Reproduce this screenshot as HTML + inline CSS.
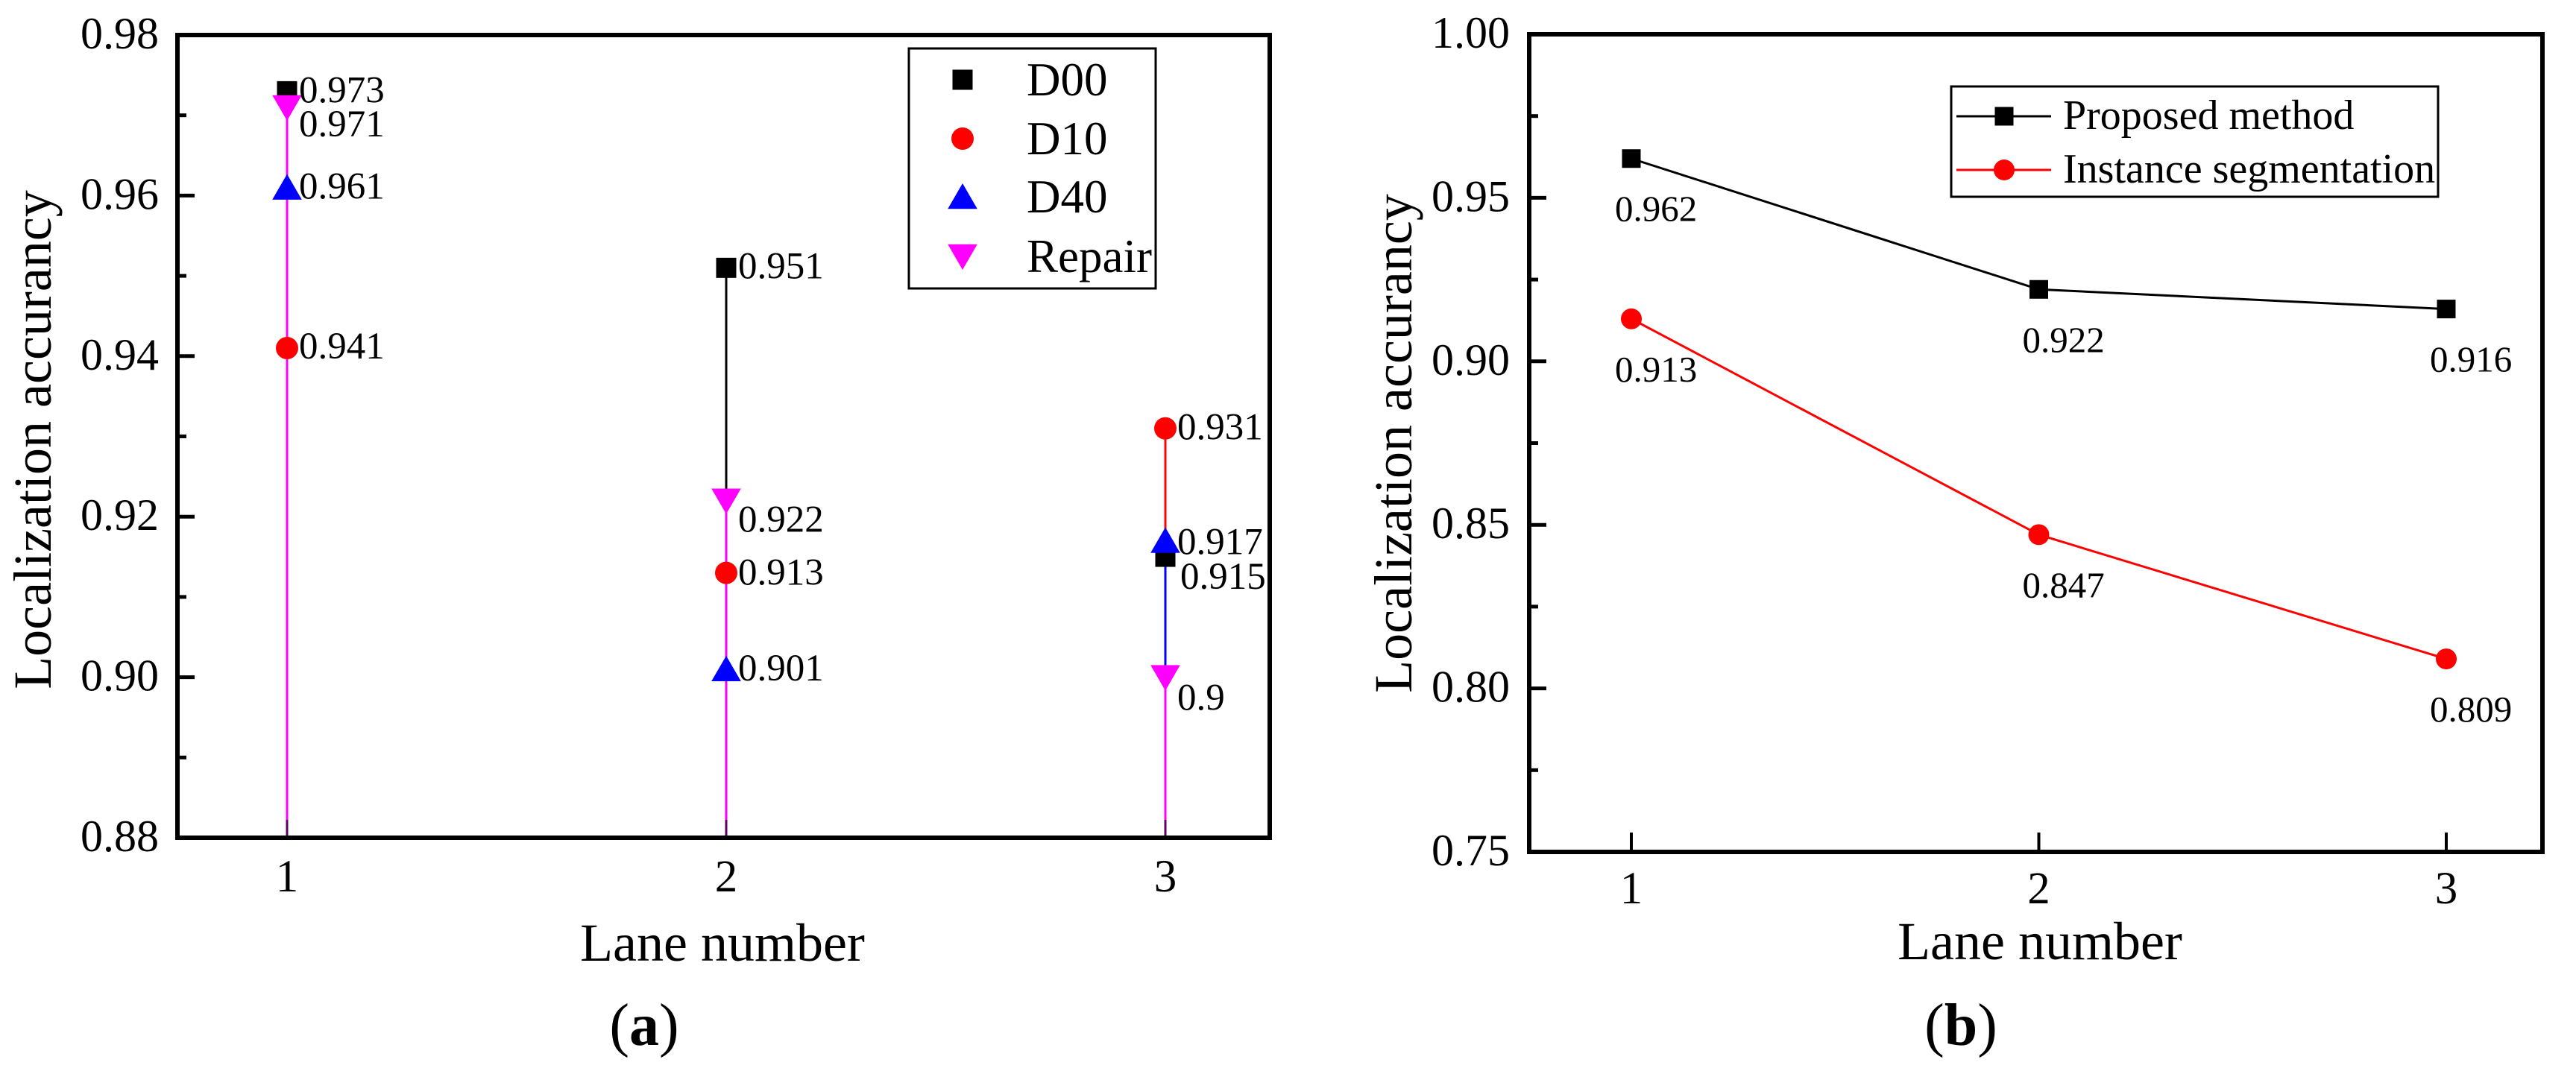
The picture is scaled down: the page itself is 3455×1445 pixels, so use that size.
<!DOCTYPE html>
<html><head><meta charset="utf-8"><style>
html,body{margin:0;padding:0;background:#fff;}
svg, svg text{font-family:"Liberation Serif","Times New Roman",serif;}
</style></head><body>
<svg id="fig" width="3455" height="1440" viewBox="0 0 3455 1440" xmlns="http://www.w3.org/2000/svg" font-family="Liberation Serif, serif">
<rect width="3455" height="1440" fill="#fff"/>
<g id="chartA"></g>
<g id="chartB"></g>
</svg>
<script>
// ---- Chart (a) data ----
const lanesA = [1, 2, 3];
const seriesNamesA = ["D00", "D10", "D40", "Repair"];
const d00 = [0.973, 0.951, 0.915];
const d10 = [0.941, 0.913, 0.931];
const d40 = [0.961, 0.901, 0.917];
const repair = [0.971, 0.922, 0.9];
const yTicksA = ["0.88", "0.90", "0.92", "0.94", "0.96", "0.98"];
// ---- Chart (b) data ----
const lanesB = [1, 2, 3];
const seriesNamesB = ["Proposed method", "Instance segmentation"];
const proposed = [0.962, 0.922, 0.916];
const instance = [0.913, 0.847, 0.809];
const yTicksB = ["0.75", "0.80", "0.85", "0.90", "0.95", "1.00"];

const NS = "http://www.w3.org/2000/svg";
function mk(parent, tag, attrs, text) {
  const e = document.createElementNS(NS, tag);
  for (const k in attrs) e.setAttribute(k, attrs[k]);
  if (tag === "text") e.setAttribute("font-family", "Liberation Serif, Times New Roman, serif");
  if (text !== undefined) e.textContent = text;
  parent.appendChild(e);
  return e;
}
function marker(g, shape, cx, cy, s, color) {
  let e;
  if (shape === "square") e = mk(g, "rect", {x: cx - s/2, y: cy - s/2, width: s, height: s, fill: color});
  else if (shape === "circle") e = mk(g, "circle", {cx: cx, cy: cy, r: s/2, fill: color});
  else if (shape === "up") e = mk(g, "polygon", {points: `${cx},${cy - s*0.5} ${cx - s*0.55},${cy + s*0.45} ${cx + s*0.55},${cy + s*0.45}`, fill: color});
  else e = mk(g, "polygon", {points: `${cx},${cy + s*0.5} ${cx - s*0.55},${cy - s*0.45} ${cx + s*0.55},${cy - s*0.45}`, fill: color});
  return e;
}

// ================= Chart A =================
(function(){
  const g = document.getElementById("chartA");
  const L = 238, R = 1703, T = 47, B = 1124;
  const yMin = 0.88, yMax = 0.98;
  const x1 = 385, x3 = 1563;
  const X = v => x1 + (v - 1) / 2 * (x3 - x1);
  const Y = v => B - (v - yMin) / (yMax - yMin) * (B - T);
  const all = [d00, d10, d40, repair];
  const colors = ["#000000", "#ff0000", "#0000ff", "#ff00ff"];
  const shapes = ["square", "circle", "up", "down"];
  const sizes = [27, 30, 36, 36];
  all.forEach((ser, si) => {
    ser.forEach((v, i) => {
      const ln = mk(g, "line", {x1: X(lanesA[i]), x2: X(lanesA[i]), y1: Y(v), y2: B, stroke: colors[si], "stroke-width": 3});
      
      
    });
  });
  lanesA.forEach(l => {
    const t = mk(g, "line", {x1: X(l), x2: X(l), y1: B, y2: B - 24, stroke: "#600060", "stroke-width": 3});
    
    
    const tl = mk(g, "text", {x: X(l), y: 1196, "font-size": 61, "text-anchor": "middle"}, String(l));
    
    
  });
  yTicksA.forEach(s => {
    const v = parseFloat(s);
    const t = mk(g, "line", {x1: L, x2: L + 23, y1: Y(v), y2: Y(v), stroke: "#000", "stroke-width": 5});
    
    
    const tl = mk(g, "text", {x: L - 25, y: Y(v) + 18, "font-size": 60, "text-anchor": "end"}, s);
    
    
    if (v < yMax - 0.001) {
      const m = mk(g, "line", {x1: L, x2: L + 12, y1: Y(v + 0.01), y2: Y(v + 0.01), stroke: "#000", "stroke-width": 5});
      
      
    }
  });
  const fr = mk(g, "rect", {x: L, y: T, width: R - L, height: B - T, fill: "none", stroke: "#000", "stroke-width": 6});
  
  
  all.forEach((ser, si) => {
    ser.forEach((v, i) => {
      const m = marker(g, shapes[si], X(lanesA[i]), Y(v), sizes[si], colors[si]);
      
      
    });
  });
  const labDy = [[15, 14, 43], [14, 16, 15], [15, 15, 18], [39, 42, 44]];
  const labDx = [[16, 16, 20], [16, 16, 16], [16, 16, 16], [16, 16, 16]];
  all.forEach((ser, si) => {
    ser.forEach((v, i) => {
      const t = mk(g, "text", {x: X(lanesA[i]) + labDx[si][i], y: Y(v) + labDy[si][i], "font-size": 51}, String(v));
      
      
    });
  });
  const lg = mk(g, "g", {});
  
  
  mk(lg, "rect", {x: 1219, y: 65, width: 331, height: 322, fill: "#fff", stroke: "#000", "stroke-width": 3});
  const lgBase = [128, 207, 285, 365];
  seriesNamesA.forEach((n, si) => {
    const e = mk(lg, "g", {});
    
    
    marker(e, shapes[si], 1291, lgBase[si] - 21, sizes[si], colors[si]);
    mk(e, "text", {x: 1377, y: lgBase[si], "font-size": 63}, n);
  });
  const xt = mk(g, "text", {x: 969, y: 1289, "font-size": 72, "text-anchor": "middle"}, "Lane number");
  
  
  const yt = mk(g, "text", {x: 0, y: 0, "font-size": 72, "text-anchor": "middle", transform: "translate(68,590) rotate(-90)"}, "Localization accurancy");
  
  
  const cap = mk(g, "text", {x: 864, y: 1402, "font-size": 80, "text-anchor": "middle"});
  
  
  cap.innerHTML = '(<tspan font-weight="bold">a</tspan>)';
})();

// ================= Chart B =================
(function(){
  const g = document.getElementById("chartB");
  const L = 2051, R = 3410, T = 46, B = 1143;
  const yMin = 0.75, yMax = 1.0;
  const x1 = 2188, x3 = 3281;
  const X = v => x1 + (v - 1) / 2 * (x3 - x1);
  const Y = v => B - (v - yMin) / (yMax - yMin) * (B - T);
  yTicksB.forEach(s => {
    const v = parseFloat(s);
    const t = mk(g, "line", {x1: L, x2: L + 23, y1: Y(v), y2: Y(v), stroke: "#000", "stroke-width": 5});
    
    
    const tl = mk(g, "text", {x: L - 26, y: Y(v) + 18, "font-size": 60, "text-anchor": "end"}, s);
    
    
    if (v < yMax - 0.001) {
      const m = mk(g, "line", {x1: L, x2: L + 12, y1: Y(v + 0.025), y2: Y(v + 0.025), stroke: "#000", "stroke-width": 5});
      
      
    }
  });
  lanesB.forEach(l => {
    const t = mk(g, "line", {x1: X(l), x2: X(l), y1: B, y2: B - 26, stroke: "#000", "stroke-width": 4});
    
    
    const tl = mk(g, "text", {x: X(l), y: 1212, "font-size": 61, "text-anchor": "middle"}, String(l));
    
    
  });
  const fr = mk(g, "rect", {x: L, y: T, width: R - L, height: B - T, fill: "none", stroke: "#000", "stroke-width": 6});
  
  
  const series = [proposed, instance];
  const colors = ["#000000", "#ff0000"];
  const shapes = ["square", "circle"];
  const sizes = [25, 28];
  series.forEach((ser, si) => {
    const pts = ser.map((v, i) => X(lanesB[i]) + "," + Y(v)).join(" ");
    const pl = mk(g, "polyline", {points: pts, fill: "none", stroke: colors[si], "stroke-width": 3});
    
    
  });
  series.forEach((ser, si) => {
    ser.forEach((v, i) => {
      const m = marker(g, shapes[si], X(lanesB[i]), Y(v), sizes[si], colors[si]);
      
      
      const t = mk(g, "text", {x: X(lanesB[i]) - 22, y: Y(v) + 84, "font-size": 49}, String(v));
      
      
    });
  });
  const lg = mk(g, "g", {});
  
  
  mk(lg, "rect", {x: 2617, y: 116, width: 653, height: 148, fill: "#fff", stroke: "#000", "stroke-width": 3});
  const lgBase = [173, 245];
  seriesNamesB.forEach((n, si) => {
    const e = mk(lg, "g", {});
    
    
    mk(e, "line", {x1: 2624, x2: 2751, y1: lgBase[si] - 17, y2: lgBase[si] - 17, stroke: colors[si], "stroke-width": 3});
    marker(e, shapes[si], 2688, lgBase[si] - 17, sizes[si], colors[si]);
    mk(e, "text", {x: 2767, y: lgBase[si], "font-size": 56}, n);
  });
  const xt = mk(g, "text", {x: 2736, y: 1287, "font-size": 72, "text-anchor": "middle"}, "Lane number");
  
  
  const yt = mk(g, "text", {x: 0, y: 0, "font-size": 72, "text-anchor": "middle", transform: "translate(1893,595) rotate(-90)"}, "Localization accurancy");
  
  
  const cap = mk(g, "text", {x: 2630, y: 1402, "font-size": 80, "text-anchor": "middle"});
  
  
  cap.innerHTML = '(<tspan font-weight="bold">b</tspan>)';
})();
</script>
</body></html>
